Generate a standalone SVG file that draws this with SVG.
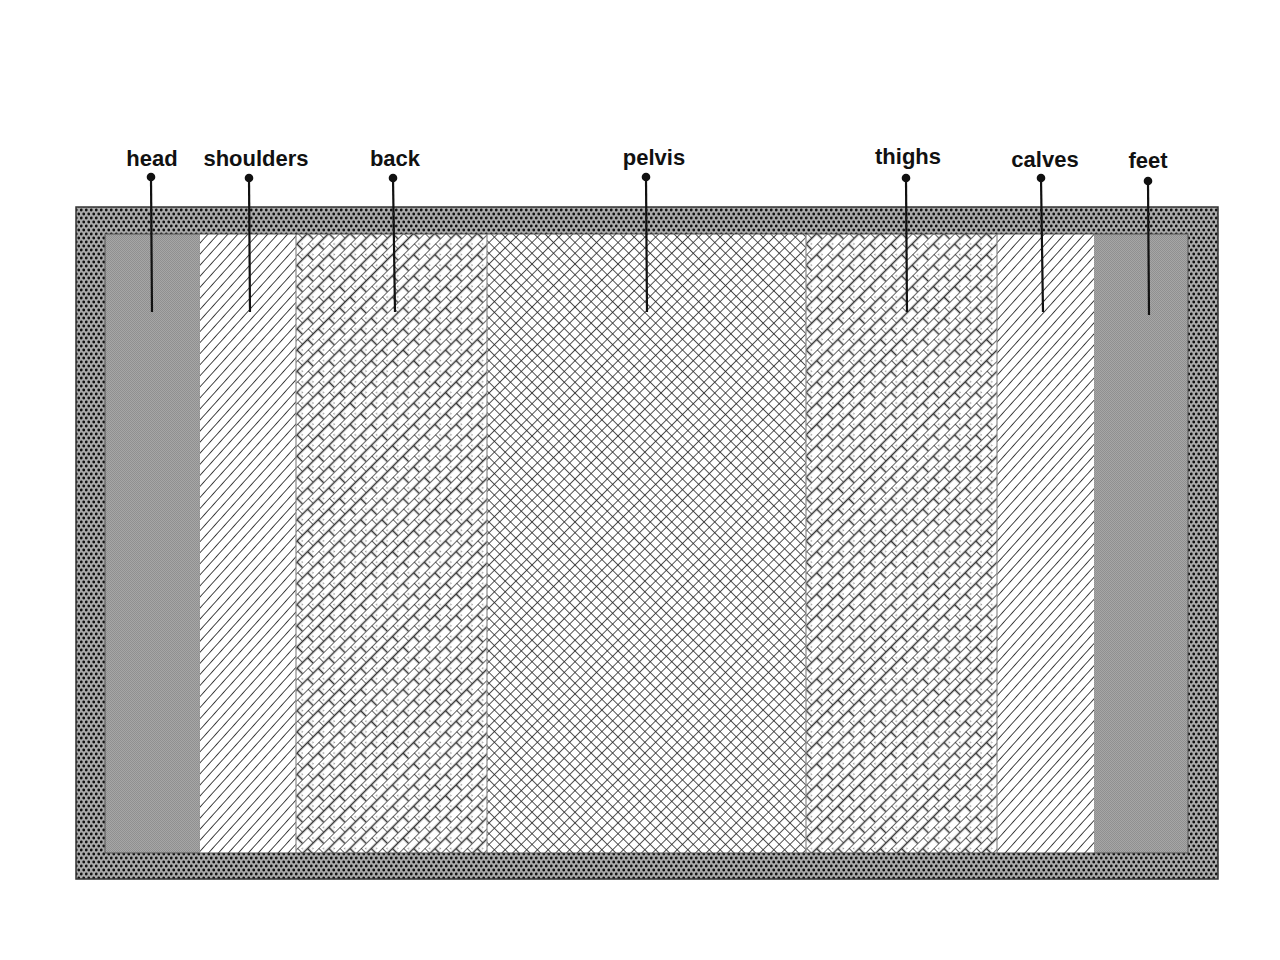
<svg xmlns="http://www.w3.org/2000/svg" width="1280" height="960" viewBox="0 0 1280 960">
<style>
.lbl{font-family:"Liberation Sans",Arial,sans-serif;font-weight:bold;font-size:22px;fill:#111;text-anchor:middle}
.lead{stroke:#111;stroke-width:2.2;fill:none}
.dot{fill:#111}
.sep{stroke:#8a8a8a;stroke-width:1.2}
</style>
<defs>
<pattern id="dots" width="5" height="8" patternUnits="userSpaceOnUse">
<rect width="5" height="8" fill="#ababab"/>
<circle cx="1.25" cy="2" r="1.4" fill="#111"/>
<circle cx="3.75" cy="6" r="1.4" fill="#111"/>
</pattern>
<pattern id="gray" width="2" height="2" patternUnits="userSpaceOnUse">
<rect width="2" height="2" fill="#a6a6a6"/>
<rect width="1" height="1" fill="#909090"/>
<rect x="1" y="1" width="1" height="1" fill="#909090"/>
</pattern>
<pattern id="hatch" width="7.4" height="7.4" patternUnits="userSpaceOnUse" patternTransform="rotate(42)">
<rect width="7.4" height="7.4" fill="#fff"/>
<line x1="0" y1="0" x2="0" y2="7.4" stroke="#333" stroke-width="1.8"/>
</pattern>
<pattern id="diamond" width="7.6" height="7.6" patternUnits="userSpaceOnUse" patternTransform="rotate(45)">
<rect width="7.6" height="7.6" fill="#fff"/>
<line x1="0" y1="0" x2="0" y2="7.6" stroke="#2a2a2a" stroke-width="1.6"/>
<line x1="0" y1="0" x2="7.6" y2="0" stroke="#2a2a2a" stroke-width="1.6"/>
</pattern>
<pattern id="brick" width="15" height="15" patternUnits="userSpaceOnUse" patternTransform="rotate(-45)">
<rect width="15" height="15" fill="#fff"/>
<line x1="0" y1="0" x2="15" y2="0" stroke="#333" stroke-width="1.5"/>
<line x1="0" y1="7.5" x2="15" y2="7.5" stroke="#333" stroke-width="1.5"/>
<line x1="0" y1="0" x2="0" y2="7.5" stroke="#333" stroke-width="1.5"/>
<line x1="7.5" y1="7.5" x2="7.5" y2="15" stroke="#333" stroke-width="1.5"/>
<line x1="3.75" y1="3" x2="3.75" y2="4.5" stroke="#888" stroke-width="1.2"/>
<line x1="11.25" y1="10.5" x2="11.25" y2="12" stroke="#888" stroke-width="1.2"/>
</pattern>
</defs>
<rect width="1280" height="960" fill="#fff"/>
<g id="frame">
<rect x="76" y="207" width="1142" height="672" fill="url(#dots)" stroke="#333" stroke-width="1.5"/>
</g>
<g id="head"><rect x="105" y="234" width="95" height="619" fill="url(#gray)"/></g>
<g id="shoulders"><rect x="200" y="234" width="96" height="619" fill="url(#hatch)"/></g>
<g id="back"><rect x="296" y="234" width="191" height="619" fill="url(#brick)"/></g>
<g id="pelvis"><rect x="487" y="234" width="319" height="619" fill="url(#diamond)"/></g>
<g id="thighs"><rect x="806" y="234" width="191" height="619" fill="url(#brick)"/></g>
<g id="calves"><rect x="997" y="234" width="97" height="619" fill="url(#hatch)"/></g>
<g id="feet"><rect x="1094" y="234" width="94" height="619" fill="url(#gray)"/></g>
<g id="separators">
<line class="sep" x1="296" y1="234" x2="296" y2="853"/>
<line class="sep" x1="487" y1="234" x2="487" y2="853"/>
<line class="sep" x1="806" y1="234" x2="806" y2="853"/>
<line class="sep" x1="997" y1="234" x2="997" y2="853"/>
<rect x="105" y="234" width="1083" height="619" fill="none" stroke="#555" stroke-width="1"/>
</g>
<g id="labels">
<text class="lbl" x="152" y="166">head</text>
<text class="lbl" x="256" y="166">shoulders</text>
<text class="lbl" x="395" y="166">back</text>
<text class="lbl" x="654" y="165">pelvis</text>
<text class="lbl" x="908" y="164">thighs</text>
<text class="lbl" x="1045" y="167">calves</text>
<text class="lbl" x="1148" y="168">feet</text>
</g>
<g id="connectors">
<line class="lead" x1="151" y1="177" x2="152" y2="312"/><circle class="dot" cx="151" cy="177" r="4.3"/>
<line class="lead" x1="249" y1="178" x2="250" y2="312"/><circle class="dot" cx="249" cy="178" r="4.3"/>
<line class="lead" x1="393" y1="178" x2="395" y2="312"/><circle class="dot" cx="393" cy="178" r="4.3"/>
<line class="lead" x1="646" y1="177" x2="647" y2="312"/><circle class="dot" cx="646" cy="177" r="4.3"/>
<line class="lead" x1="906" y1="178" x2="907" y2="312"/><circle class="dot" cx="906" cy="178" r="4.3"/>
<line class="lead" x1="1041" y1="178" x2="1043" y2="312"/><circle class="dot" cx="1041" cy="178" r="4.3"/>
<line class="lead" x1="1148" y1="181" x2="1149" y2="315"/><circle class="dot" cx="1148" cy="181" r="4.3"/>
</g>
</svg>
